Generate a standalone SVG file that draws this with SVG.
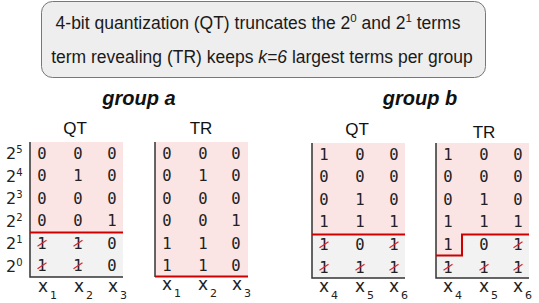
<svg xmlns="http://www.w3.org/2000/svg" width="539" height="303" viewBox="0 0 539 303">
<style>
.hdr{font-family:"Liberation Sans",Arial,sans-serif;font-size:17.5px;fill:#1a1a1a}
.grp{font-family:"Liberation Sans",Arial,sans-serif;font-size:20px;font-weight:bold;font-style:italic;fill:#111}
.ttl{font-family:"Liberation Sans",Arial,sans-serif;font-size:17px;fill:#111;text-anchor:middle}
.d{font-family:"DejaVu Sans Mono",monospace;font-size:15.5px;fill:#222;text-anchor:middle}
.rl{font-family:"DejaVu Sans",sans-serif;font-size:16px;fill:#222}
.sup{font-size:10px}
.xl{font-family:"DejaVu Sans",sans-serif;font-size:17px;fill:#222}
.sub{font-size:11px}
.pink{fill:#fbe4e4}
.grey{fill:#f2f2f2}
.ax{stroke:#333;stroke-width:1.5;fill:none}
.red{stroke:#cc0000;stroke-width:2;fill:none}
.sl{stroke:#e02020;stroke-width:1.1}
</style>
<defs>
<g id="one-x"><text class="d" x="0" y="5.5">1</text><line class="sl" x1="-4.5" y1="3" x2="4.5" y2="-3"/></g>
</defs>

<g id="header">
<rect x="41.5" y="1.5" width="444" height="76" rx="11" fill="#eeeeee" stroke="#777" stroke-width="1"/>
<text class="hdr" x="258" y="29" text-anchor="middle">4-bit quantization (QT) truncates the 2<tspan font-size="11.5" dy="-7">0</tspan><tspan dy="7"> and 2</tspan><tspan font-size="11.5" dy="-7">1</tspan><tspan dy="7"> terms</tspan></text>
<text class="hdr" x="262" y="63" text-anchor="middle">term revealing (TR) keeps <tspan font-style="italic">k=6</tspan> largest terms per group</text>
</g>

<g id="group-a-label"><text class="grp" x="139" y="105" text-anchor="middle">group a</text></g>
<g id="group-b-label"><text class="grp" x="420" y="105" text-anchor="middle">group b</text></g>

<g id="row-labels">
<text class="rl" x="6" y="159">2<tspan class="sup" dy="-6">5</tspan></text>
<text class="rl" x="6" y="181.5">2<tspan class="sup" dy="-6">4</tspan></text>
<text class="rl" x="6" y="204">2<tspan class="sup" dy="-6">3</tspan></text>
<text class="rl" x="6" y="226.5">2<tspan class="sup" dy="-6">2</tspan></text>
<text class="rl" x="6" y="249">2<tspan class="sup" dy="-6">1</tspan></text>
<text class="rl" x="6" y="271.5">2<tspan class="sup" dy="-6">0</tspan></text>
</g>

<!-- group a QT -->
<g id="qt-a">
<text class="ttl" x="75" y="134">QT</text>
<rect class="pink" x="30" y="142" width="93" height="90"/>
<rect class="grey" x="30" y="232" width="93" height="45"/>
<g>
<text class="d" x="42" y="158.75">0</text><text class="d" x="78" y="158.75">0</text><text class="d" x="112" y="158.75">0</text>
<text class="d" x="42" y="181.25">0</text><text class="d" x="78" y="181.25">1</text><text class="d" x="112" y="181.25">0</text>
<text class="d" x="42" y="203.75">0</text><text class="d" x="78" y="203.75">0</text><text class="d" x="112" y="203.75">0</text>
<text class="d" x="42" y="226.25">0</text><text class="d" x="78" y="226.25">0</text><text class="d" x="112" y="226.25">1</text>
<use href="#one-x" x="42" y="243.25"/><use href="#one-x" x="78" y="243.25"/><text class="d" x="112" y="248.75">0</text>
<use href="#one-x" x="42" y="265.75"/><use href="#one-x" x="78" y="265.75"/><text class="d" x="112" y="271.25">0</text>
</g>
<path class="ax" d="M30,142 V277 H123"/>
<line class="red" x1="30" y1="232.5" x2="123" y2="232.5"/>
<text class="xl" x="43" y="292" text-anchor="middle">x</text><text class="xl sub" x="50" y="299">1</text>
<text class="xl" x="79" y="292" text-anchor="middle">x</text><text class="xl sub" x="86" y="299">2</text>
<text class="xl" x="113" y="292" text-anchor="middle">x</text><text class="xl sub" x="120" y="299">3</text>
</g>

<!-- group a TR -->
<g id="tr-a">
<text class="ttl" x="201" y="134">TR</text>
<rect class="pink" x="155" y="142" width="93" height="135"/>
<g>
<text class="d" x="167" y="158.75">0</text><text class="d" x="203" y="158.75">0</text><text class="d" x="236" y="158.75">0</text>
<text class="d" x="167" y="181.25">0</text><text class="d" x="203" y="181.25">1</text><text class="d" x="236" y="181.25">0</text>
<text class="d" x="167" y="203.75">0</text><text class="d" x="203" y="203.75">0</text><text class="d" x="236" y="203.75">0</text>
<text class="d" x="167" y="226.25">0</text><text class="d" x="203" y="226.25">0</text><text class="d" x="236" y="226.25">1</text>
<text class="d" x="167" y="248.75">1</text><text class="d" x="203" y="248.75">1</text><text class="d" x="236" y="248.75">0</text>
<text class="d" x="167" y="271.25">1</text><text class="d" x="203" y="271.25">1</text><text class="d" x="236" y="271.25">0</text>
</g>
<path class="ax" d="M155,142 V277"/>
<line class="red" x1="155" y1="276.5" x2="248" y2="276.5"/>
<text class="xl" x="167" y="290" text-anchor="middle">x</text><text class="xl sub" x="174" y="297">1</text>
<text class="xl" x="203" y="290" text-anchor="middle">x</text><text class="xl sub" x="210" y="297">2</text>
<text class="xl" x="237" y="290" text-anchor="middle">x</text><text class="xl sub" x="244" y="297">3</text>
</g>

<!-- group b QT -->
<g id="qt-b">
<text class="ttl" x="357" y="135">QT</text>
<rect class="pink" x="312" y="143" width="93" height="91"/>
<rect class="grey" x="312" y="234" width="93" height="44"/>
<g>
<text class="d" x="324" y="159.75">1</text><text class="d" x="360" y="159.75">0</text><text class="d" x="394" y="159.75">0</text>
<text class="d" x="324" y="182.25">0</text><text class="d" x="360" y="182.25">0</text><text class="d" x="394" y="182.25">0</text>
<text class="d" x="324" y="204.75">0</text><text class="d" x="360" y="204.75">1</text><text class="d" x="394" y="204.75">0</text>
<text class="d" x="324" y="227.25">1</text><text class="d" x="360" y="227.25">1</text><text class="d" x="394" y="227.25">1</text>
<use href="#one-x" x="324" y="244.75"/><text class="d" x="360" y="250.25">0</text><use href="#one-x" x="394" y="244.75"/>
<use href="#one-x" x="324" y="267.25"/><use href="#one-x" x="360" y="267.25"/><use href="#one-x" x="394" y="267.25"/>
</g>
<path class="ax" d="M312,143 V278 H405"/>
<line class="red" x1="312" y1="234.5" x2="405" y2="234.5"/>
<text class="xl" x="324" y="292" text-anchor="middle">x</text><text class="xl sub" x="331" y="299">4</text>
<text class="xl" x="360" y="292" text-anchor="middle">x</text><text class="xl sub" x="367" y="299">5</text>
<text class="xl" x="394" y="292" text-anchor="middle">x</text><text class="xl sub" x="401" y="299">6</text>
</g>

<!-- group b TR -->
<g id="tr-b">
<text class="ttl" x="484" y="138">TR</text>
<rect class="grey" x="436" y="143" width="93" height="135"/>
<path class="pink" d="M436,143 H529 V234 H462 V256 H436 Z"/>
<g>
<text class="d" x="448" y="159.75">1</text><text class="d" x="484" y="159.75">0</text><text class="d" x="518" y="159.75">0</text>
<text class="d" x="448" y="182.25">0</text><text class="d" x="484" y="182.25">0</text><text class="d" x="518" y="182.25">0</text>
<text class="d" x="448" y="204.75">0</text><text class="d" x="484" y="204.75">1</text><text class="d" x="518" y="204.75">0</text>
<text class="d" x="448" y="227.25">1</text><text class="d" x="484" y="227.25">1</text><text class="d" x="518" y="227.25">1</text>
<text class="d" x="448" y="250.25">1</text><text class="d" x="484" y="250.25">0</text><use href="#one-x" x="518" y="244.75"/>
<use href="#one-x" x="448" y="267.25"/><use href="#one-x" x="484" y="267.25"/><use href="#one-x" x="518" y="267.25"/>
</g>
<path class="ax" d="M436,143 V278 H529"/>
<polyline class="red" points="436,255.5 462,255.5 462,234.5 529,234.5"/>
<text class="xl" x="448" y="292" text-anchor="middle">x</text><text class="xl sub" x="455" y="299">4</text>
<text class="xl" x="484" y="292" text-anchor="middle">x</text><text class="xl sub" x="491" y="299">5</text>
<text class="xl" x="518" y="292" text-anchor="middle">x</text><text class="xl sub" x="525" y="299">6</text>
</g>
</svg>
